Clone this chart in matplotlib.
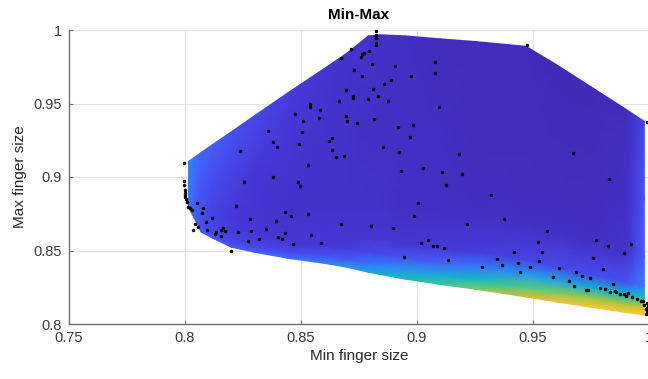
import matplotlib.pyplot as plt
import numpy as np
from matplotlib.colors import LinearSegmentedColormap

plt.rcParams['font.family'] = ['Liberation Sans', 'DejaVu Sans']

#===========================================================================#
#
# data
#
#---------------------------------------------------------------------------#

# column nodes of the shaded region and its lower / upper edge
edge_x = [0.8015, 0.8040, 0.8070, 0.8120, 0.8200, 0.8300, 0.8450, 0.8600,
          0.8700, 0.8790, 0.8840, 0.8950, 0.9100, 0.9250, 0.9470, 0.9600,
          0.9750, 0.9900, 0.9940, 0.9980]
edge_lo = [0.8790, 0.8720, 0.8625, 0.8583, 0.8522, 0.8488, 0.8445, 0.8413,
           0.8385, 0.8352, 0.8337, 0.8305, 0.8269, 0.8237, 0.8184, 0.8150,
           0.8114, 0.8078, 0.8070, 0.8060]
edge_hi = [0.9107, 0.9134, 0.9168, 0.9222, 0.9308, 0.9418, 0.9580, 0.9738,
           0.9845, 0.9960, 0.9968, 0.9960, 0.9940, 0.9922, 0.9889, 0.9766,
           0.9614, 0.9462, 0.9420, 0.9379]

# rows: fraction of the height between lower and upper edge
row_frac = [0.0, 0.04, 0.09, 0.15, 0.30, 0.60, 1.0]

# colour value (0..1) for each column, from bottom row to top row
col_vals = [
    [0.24, 0.24, 0.24, 0.24, 0.25, 0.26, 0.28],
    [0.20, 0.19, 0.18, 0.18, 0.19, 0.21, 0.24],
    [0.17, 0.15, 0.14, 0.13, 0.14, 0.16, 0.20],
    [0.16, 0.13, 0.11, 0.10, 0.10, 0.12, 0.17],
    [0.17, 0.11, 0.09, 0.08, 0.07, 0.09, 0.14],
    [0.19, 0.11, 0.08, 0.07, 0.06, 0.07, 0.11],
    [0.23, 0.11, 0.07, 0.06, 0.05, 0.06, 0.08],
    [0.28, 0.13, 0.07, 0.06, 0.05, 0.05, 0.06],
    [0.34, 0.16, 0.08, 0.06, 0.05, 0.05, 0.05],
    [0.40, 0.22, 0.10, 0.06, 0.05, 0.04, 0.05],
    [0.44, 0.26, 0.11, 0.06, 0.05, 0.04, 0.04],
    [0.50, 0.32, 0.14, 0.06, 0.04, 0.04, 0.04],
    [0.57, 0.40, 0.18, 0.07, 0.04, 0.04, 0.03],
    [0.66, 0.48, 0.24, 0.08, 0.04, 0.03, 0.03],
    [0.78, 0.60, 0.34, 0.10, 0.04, 0.03, 0.03],
    [0.83, 0.66, 0.38, 0.11, 0.04, 0.03, 0.02],
    [0.86, 0.70, 0.42, 0.12, 0.04, 0.03, 0.02],
    [0.88, 0.72, 0.46, 0.14, 0.05, 0.04, 0.03],
    [0.88, 0.74, 0.48, 0.20, 0.10, 0.08, 0.06],
    [0.88, 0.75, 0.50, 0.26, 0.18, 0.16, 0.12],
]

# sample points (black dots)
dots_x = [
    0.7996, 0.7996, 0.7997, 0.7999, 0.8000, 0.8000, 0.8001, 0.8003, 0.8007,
    0.8014, 0.8022, 0.8029,
    0.8053, 0.8078, 0.8072, 0.8115, 0.8092, 0.8043, 0.8055, 0.8033, 0.8093,
    0.8134, 0.8128, 0.8154, 0.8155, 0.8165, 0.8172, 0.8198, 0.8218, 0.8230,
    0.8254, 0.8280, 0.8286, 0.8270, 0.8317, 0.8349, 0.8378, 0.8394, 0.8430,
    0.8456, 0.8401, 0.8420, 0.8430, 0.8467, 0.8486, 0.8496, 0.8531, 0.8543,
    0.8585,
    0.8238, 0.8359, 0.8378, 0.8397, 0.8475, 0.8507, 0.8503, 0.8491, 0.8529,
    0.8540, 0.8540, 0.8582, 0.8579, 0.8619, 0.8635, 0.8632, 0.8651, 0.8664,
    0.8822, 0.8822, 0.8822, 0.8822, 0.8822,
    0.8716, 0.8672, 0.8770, 0.8763, 0.8757, 0.8791, 0.8804, 0.8730, 0.8762,
    0.8905, 0.9076, 0.9078, 0.8974, 0.8886, 0.8858, 0.8812, 0.8694, 0.8722,
    0.8725, 0.8787, 0.8832, 0.8873, 0.9096, 0.8694, 0.8697, 0.8815, 0.8743,
    0.8917, 0.8983, 0.8968, 0.8852, 0.8922, 0.8684, 0.9181, 0.8929, 0.9026,
    0.9108, 0.9195,
    0.9473, 0.9671, 0.9993,
    0.9826, 0.9125, 0.9319, 0.9003, 0.8988, 0.8674, 0.8802, 0.8895, 0.9214,
    0.9017, 0.9046, 0.9069, 0.9086, 0.9115, 0.8943, 0.9135, 0.9281, 0.9374,
    0.9560, 0.9521, 0.9539, 0.9418, 0.9345, 0.9365, 0.9435, 0.9445, 0.9486,
    0.9527, 0.9770, 0.9822, 0.9923, 0.9893, 0.9757, 0.9803, 0.9612, 0.9588,
    0.9687, 0.9713, 0.9746, 0.9654, 0.9677, 0.9845, 0.9728, 0.9738, 0.9790,
    0.9810, 0.9832, 0.9853, 0.9856, 0.9873, 0.9893, 0.9911, 0.9903, 0.9928,
    0.9950, 0.9964,
    0.9975, 0.9980, 0.9990, 0.9990, 0.9985, 0.9995, 0.9990, 0.9985, 0.9995,
    0.9993,
]
dots_y = [
    0.9094, 0.8973, 0.8945, 0.8912, 0.8889, 0.8866, 0.8878, 0.8850, 0.8832,
    0.8798, 0.8787, 0.8776,
    0.8821, 0.8789, 0.8755, 0.8723, 0.8696, 0.8678, 0.8662, 0.8637, 0.8639,
    0.8624, 0.8610, 0.8601, 0.8639, 0.8655, 0.8631, 0.8495, 0.8803, 0.8628,
    0.8968, 0.8716, 0.8635, 0.8567, 0.8576, 0.8644, 0.9003, 0.8701, 0.8760,
    0.8737, 0.8590, 0.8580, 0.8617, 0.8542, 0.8964, 0.8937, 0.8746, 0.8607,
    0.8551,
    0.9179, 0.9313, 0.9240, 0.9204, 0.9431, 0.9383, 0.9306, 0.9227, 0.9080,
    0.9494, 0.9476, 0.9456, 0.9401, 0.9247, 0.9263, 0.9182, 0.9136, 0.9517,
    0.9993, 0.9964, 0.9946, 0.9912, 0.9896,
    0.9871, 0.9807, 0.9846, 0.9837, 0.9814, 0.9859, 0.9767, 0.9726, 0.9687,
    0.9757, 0.9785, 0.9707, 0.9685, 0.9660, 0.9635, 0.9601, 0.9592, 0.9553,
    0.9535, 0.9533, 0.9551, 0.9519, 0.9476, 0.9413, 0.9383, 0.9397, 0.9370,
    0.9340, 0.9356, 0.9274, 0.9202, 0.9172, 0.9145, 0.9156, 0.9043, 0.9059,
    0.9032, 0.9020,
    0.9898, 0.9163, 0.9376,
    0.8986, 0.8946, 0.8878, 0.8821, 0.8735, 0.8678, 0.8667, 0.8651, 0.8680,
    0.8549, 0.8571, 0.8533, 0.8531, 0.8515, 0.8454, 0.8435, 0.8390, 0.8712,
    0.8633, 0.8558, 0.8492, 0.8490, 0.8442, 0.8401, 0.8417, 0.8356, 0.8390,
    0.8429, 0.8574, 0.8529, 0.8542, 0.8481, 0.8447, 0.8374, 0.8383, 0.8322,
    0.8352, 0.8329, 0.8311, 0.8290, 0.8259, 0.8274, 0.8234, 0.8231, 0.8243,
    0.8238, 0.8220, 0.8224, 0.8216, 0.8202, 0.8202, 0.8209, 0.8188, 0.8184,
    0.8170, 0.8156,
    0.8155, 0.8130, 0.8110, 0.8090, 0.8070, 0.8065, 0.8145, 0.8105, 0.8120,
    0.8080,
]

# MATLAB parula (subset of the 64 entry table)
parula_pos = [0, 4, 8, 12, 16, 20, 24, 28, 32, 36, 40, 44, 48, 52, 56, 60, 63]
parula_rgb = [
    (0.2422, 0.1504, 0.6603), (0.2706, 0.2147, 0.8364),
    (0.2813, 0.3006, 0.9414), (0.2699, 0.3892, 0.9906),
    (0.1963, 0.4847, 0.9892), (0.1687, 0.5703, 0.9359),
    (0.1248, 0.6459, 0.8883), (0.0297, 0.7082, 0.8163),
    (0.0964, 0.7500, 0.7120), (0.2161, 0.7843, 0.5923),
    (0.3909, 0.8029, 0.4354), (0.6174, 0.7876, 0.2612),
    (0.8203, 0.7498, 0.1535), (0.9728, 0.7298, 0.2394),
    (0.9892, 0.8136, 0.1885), (0.9607, 0.9135, 0.1287),
    (0.9763, 0.9831, 0.0538),
]

#===========================================================================#
#
# plot
#
#---------------------------------------------------------------------------#

parula = LinearSegmentedColormap.from_list(
    "parula", [(p / 63, c) for p, c in zip(parula_pos, parula_rgb)])

fig = plt.figure(figsize=(6.48, 3.79), dpi=100)
ax = fig.add_axes([69 / 648, 55 / 379, 580 / 648, 294 / 379])

xs = np.array(edge_x)
lo = np.array(edge_lo)
hi = np.array(edge_hi)
fr = np.array(row_frac)[:, None]

X = np.tile(xs, (len(row_frac), 1))
Y = lo[None, :] + fr * (hi - lo)[None, :]
Z = np.array(col_vals).T

ax.pcolormesh(X, Y, Z, shading="gouraud", cmap=parula, vmin=0, vmax=1,
              zorder=1)
ax.plot(dots_x, dots_y, ".", color="k", markersize=3, zorder=3)

ax.set_xlim(0.75, 1.0)
ax.set_ylim(0.8, 1.0)
ax.set_xticks([0.75, 0.8, 0.85, 0.9, 0.95, 1.0])
ax.set_xticklabels(["0.75", "0.8", "0.85", "0.9", "0.95", "1"])
ax.set_yticks([0.8, 0.85, 0.9, 0.95, 1.0])
ax.set_yticklabels(["0.8", "0.85", "0.9", "0.95", "1"])

ax.grid(True, color="#e3e3e3", lw=0.8)
ax.set_axisbelow(True)

for s in ["top", "right"]:
    ax.spines[s].set_visible(False)
for s in ["left", "bottom"]:
    ax.spines[s].set_color("#6e6e6e")
    ax.spines[s].set_linewidth(1.0)

ax.tick_params(direction="in", length=3, width=0.8, color="#6e6e6e",
               labelcolor="#3a3a3a", labelsize=10.5, pad=5)

ax.set_xlabel("Min finger size", fontsize=11, color="#262626", labelpad=3)
ax.set_ylabel("Max finger size", fontsize=11, color="#262626", labelpad=5)
ax.set_title("Min-Max", fontsize=11, fontweight="bold", pad=8)

fig.savefig("out.png", dpi=100)
